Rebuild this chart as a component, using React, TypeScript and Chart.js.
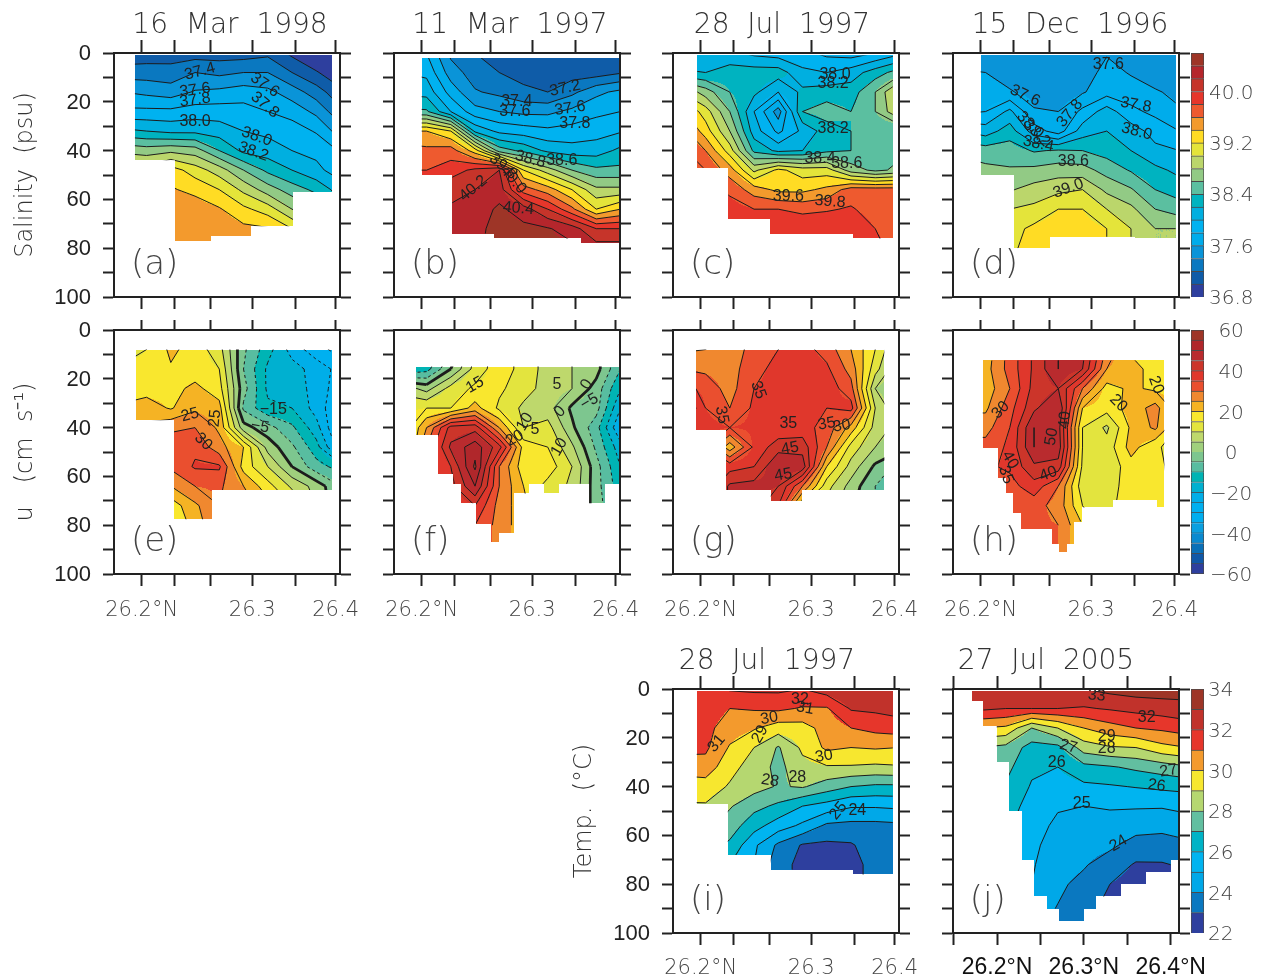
import React, { useEffect, useRef } from "react";
import { Chart, registerables } from "chart.js";

Chart.register(...registerables);

// ---------- grid axes ----------
const latCols = [26.18, 26.205, 26.23, 26.255, 26.28, 26.305, 26.33, 26.355, 26.38, 26.405];
const latColsJ = [26.15, 26.18, 26.21, 26.24, 26.27, 26.3, 26.33, 26.36, 26.39, 26.42];
const depthRows = [0, 8, 16, 24, 32, 40, 48, 56, 64, 72, 80];
const depthRowsJ = [0, 8, 16, 24, 32, 40, 48, 56, 64, 72, 80, 88, 96];

// ---------- fields: one array per latitude column ----------
const fieldA = [
  [37.05,37.3,37.6,37.85,38.25,38.75,39.1,39.3,39.42,39.5,39.55],
  [37.08,37.3,37.55,37.85,38.2,38.7,39.1,39.3,39.42,39.5,39.55],
  [37.1,37.28,37.5,37.85,38.15,38.75,39.3,39.42,39.5,39.55,39.55],
  [37.1,37.4,37.62,37.9,38.15,38.7,39.1,39.35,39.5,39.55,39.55],
  [37.1,37.35,37.65,37.9,38.1,38.4,38.9,39.2,39.42,39.55,39.55],
  [37.1,37.4,37.7,37.88,38.0,38.15,38.6,38.95,39.25,39.45,39.55],
  [37.15,37.4,37.65,37.8,37.95,38.1,38.35,38.7,39.1,39.42,39.55],
  [36.95,37.2,37.5,37.72,37.9,38.0,38.2,38.5,38.8,39.2,39.4],
  [36.8,37.02,37.3,37.55,37.78,37.95,38.05,38.35,38.6,38.9,39.1],
  [36.7,36.85,37.05,37.25,37.5,37.78,37.9,38.1,38.3,38.5,38.7],
];
const fieldB = [
  [37.8,38.0,38.15,38.45,39.4,39.7,39.8,39.9,39.9,39.9,39.9],
  [37.8,37.95,38.12,38.43,39.4,39.65,39.8,39.9,39.95,40,40],
  [37.35,37.5,37.72,38.0,39.2,39.7,39.9,40.15,40.22,40.3,40.3],
  [37.2,37.3,37.42,37.68,38.15,39.3,40.05,40.2,40.28,40.35,40.35],
  [37.1,37.2,37.35,37.6,37.95,38.5,40.2,40.3,40.44,40.46,40.5],
  [37.05,37.12,37.25,37.55,37.9,38.35,39.2,39.7,40.3,40.45,40.5],
  [37.0,37.05,37.2,37.55,37.85,38.15,38.9,39.5,40.0,40.42,40.45],
  [37.0,37.1,37.35,37.65,37.88,38.08,38.6,39.2,39.65,40.3,40.45],
  [37.02,37.1,37.55,37.75,37.92,38.1,38.45,38.85,39.2,40.0,40.3],
  [37.0,37.18,37.65,37.8,37.98,38.25,38.45,38.85,39.4,40.0,40.3],
];
const fieldC = [
  [37.95,38.25,39.0,39.45,39.7,39.85,39.8,39.8,39.8,39.8,39.8],
  [38.0,38.2,38.7,39.1,39.3,39.6,39.8,39.9,39.9,39.9,39.9],
  [38.05,38.3,38.4,38.6,38.8,39.1,39.5,39.75,39.9,40,40],
  [37.95,38.3,38.25,38.0,38.1,38.35,38.95,39.5,39.8,39.9,39.9],
  [37.9,38.3,38.0,37.5,37.75,38.15,39.25,39.35,39.8,39.95,39.95],
  [37.85,38.05,38.25,38.4,38.05,38.2,39.1,39.35,39.75,39.95,39.95],
  [37.75,38.0,38.3,38.5,38.3,38.35,39.1,39.45,39.78,39.95,39.95],
  [37.7,38.1,38.3,38.4,38.4,38.4,38.7,39.7,39.82,39.95,39.95],
  [37.8,38.3,38.6,38.6,38.4,38.45,38.55,39.7,39.72,39.8,39.85],
  [37.95,38.5,39.1,39.0,38.4,38.55,38.65,39.7,39.72,39.72,39.72],
];
const fieldD = [
  [37.5,37.62,37.7,37.75,38.2,38.55,38.7,38.75,38.9,39,39],
  [37.55,37.6,37.7,37.8,38.1,38.5,38.65,38.7,38.9,39,39],
  [37.45,37.5,37.62,38.05,38.3,38.5,38.62,38.78,39.0,39.12,39.15],
  [37.42,37.42,37.52,37.62,37.9,38.38,38.65,38.88,39.05,39.25,39.3],
  [37.42,37.42,37.45,37.6,37.7,38.42,38.7,38.95,39.2,39.3,39.3],
  [37.42,37.48,37.58,37.85,38.1,38.4,38.68,39.0,39.2,39.3,39.3],
  [37.58,37.68,37.72,38.1,38.2,38.32,38.52,38.75,39.0,39.2,39.2],
  [37.5,37.58,37.7,37.85,38.1,38.2,38.38,38.62,38.85,39.0,39.0],
  [37.42,37.5,37.62,37.75,37.92,38.05,38.25,38.4,38.6,38.8,38.8],
  [37.42,37.45,37.55,37.62,37.8,38.0,38.15,38.3,38.5,38.8,38.8],
];
const fieldE = [
  [13,12,16,17,21,25,25,25,25,25,25],
  [14,15,17,18,22.5,26,28,30,28,22,18],
  [20,21,19.5,18,19.5,29,33,31,25,17,15],
  [19,18,17,21.5,24,30,34,35.6,30,24,22],
  [10,12,15,17,22,24,27,35.8,31,30,30],
  [-3,-4,-5,-3,-6,2,20,18,25,28,28],
  [-12,-13,-16,-16,-14,-3,3,10,17,22,22],
  [-22,-22,-18,-17,-15,-9,-4,0,9,15,15],
  [-28,-28,-22,-22,-22,-18,-13,-8,3,5,5],
  [-35,-32,-27,-28,-30,-32,-28,-12,-5,-5,-5],
];
const fieldF = [
  [-15,-15,-15,8,14,10,9,9,9,9,9],
  [-15,-15,-12,3,15,25,30,32,32,32,32],
  [-5,-5,0,12,15,42,46,40,38,35,35],
  [10,10,12,16,22,43,53,56,50,40,35],
  [18,18,18,16,14,25,42,30,30,28,28],
  [13,13,13,12,9,10,18,17,20,22,22],
  [8,8,8,8,7,12,15,18,13,11,11],
  [5,5,5,5,-1,1,6,10,9,9,9],
  [2,2,2,-2,-3,-8,-6,-3,-3,-3,-3],
  [-10,-10,-10,-15,-20,-25,-18,-15,-13,-10,-10],
];
const fieldG = [
  [20,24,30,38,48,38,38,38,38,38,38],
  [22,25,29,33,35,37,35,35,35,35,35],
  [25,27,28,28,30,35,22,38,46,46,46],
  [30,32,33,35,36,36,36,40,47,48,48],
  [33,35,37,37,35,36,43,50,45,40,40],
  [35,37,37,38,38,37,43,48,30,15,15],
  [30,33,36,38,35,33,30,20,12,8,8],
  [22,25,28,32,37,23,13,8,3,1,1],
  [15,15,12,5,10,8,5,-1,-5,-5,-5],
  [3,3,0,1,0,3,2,-7,-10,-10,-10],
];
const fieldH = [
  [22,22,23,22,24,28,32,32,32,32,32],
  [22,22,23,22,24,28,32,34,33,31,31],
  [32,32,32,30,33,35,36,36,33,31,31],
  [41,41,41,42,44,50,50,44,38,32,31],
  [50,50,50,45,50,47,48,43,30,28,30],
  [47,47,45,30,20,15,15,14,12,15,20],
  [29,29,25,18,17,9,12,11,11,12,12],
  [19,19,22,21,22,21,22,18,19,20,20],
  [16,16,18,19,27,26,16,17,17,19,19],
  [15,15,16,17,16,14,12,12,13,18,18],
];
const fieldI = [
  [31.7,31.5,31.4,31.3,30.5,29.4,28.9,28.5,28,28,28],
  [31.7,31.5,31.3,31.2,30.6,29.5,28.9,28.3,27.5,27.2,27],
  [32.1,31.0,30.5,29.9,29.3,28.9,28.1,27.5,26.8,26,26],
  [32.2,31.1,30.1,29.0,28.6,28.4,27.3,26.4,25.2,25,25],
  [32.2,31.2,29.5,27.9,27.7,27.9,26.8,25.5,23.8,23.4,23.4],
  [32,30.9,29.6,29.2,28.7,28.1,26,24.8,22.9,22.7,22.7],
  [32.5,30.9,30.4,30.2,28.9,27.5,25.6,23.8,22.8,22.7,22.7],
  [32.9,32.1,31,30,28.9,27,25.1,23.7,22.9,22.6,22.6],
  [33,32.2,31.3,30.1,28.8,26.8,25.1,23.7,23.5,23.4,23.4],
  [33,32.4,31.5,30,28.9,26.8,25.2,23.8,23.5,23.4,23.4],
];
const fieldJ = [
  [32.5,31.5,30,28,27.5,27,26.5,26,25.5,25.5,25.5,25.5,25.5],
  [32.9,32.2,30,28,27.5,27,26.5,26.2,25.8,25.5,25.5,25.5,25.5],
  [33,32,29.8,27.7,27.3,26.9,26.5,26.2,25.8,25.5,25.3,25.1,25],
  [33,32,28,26.6,26.2,25.9,25.6,25.4,25.2,25.1,25,24.5,24.3],
  [33,32,29,26.7,26,25.6,25.1,24.8,24.6,24.4,24.2,24,23.8],
  [33,31.9,30,28.5,26.7,25.8,25,24.6,24.4,24.1,23.7,23.5,23.3],
  [33.3,32.1,30.6,28.9,26.9,25.9,25.1,24.6,24.2,23.5,23,22.7,22.6],
  [33.5,32.3,31,29,27.2,26.05,25.1,24.4,23.6,22.9,22.6,22.5,22.5],
  [33.5,32.5,31.2,29.7,27.5,26.2,25.1,24.2,23.7,22.9,22.5,22.5,22.5],
  [33.4,32.7,31.5,30,27.9,26.3,25.3,24.5,23.8,23.2,23,23,23],
];

// ---------- sampled extent of each section ----------
const edgesA = [26.193, 26.2343, 26.2714, 26.3127, 26.356, 26.3962];
const topA = [1, 1, 1, 1, 1];
const bottomA = [44, 77, 75, 71, 57];
const edgesB = [26.2, 26.2316, 26.2746, 26.3643, 26.4038];
const topB = [2, 2, 2, 2];
const bottomB = [50, 74, 76, 78];
const edgesC = [26.1965, 26.2285, 26.2715, 26.3574, 26.398];
const topC = [1, 1, 1, 1];
const bottomC = [47, 68, 74, 76];
const edgesD = [26.2, 26.2343, 26.2715, 26.3592, 26.401];
const topD = [1, 1, 1, 1];
const bottomD = [50, 80, 75.3, 76];
const edgesE = [26.194, 26.2333, 26.2722, 26.396];
const topE = [8, 8, 8];
const bottomE = [37, 77.6, 65.6];
const edgesF = [26.1941,26.2171,26.2326,26.2405,26.256,26.2718,26.2797,26.2952,26.3107,26.3258,26.3416,26.3726,26.3891,26.4038];
const topF = [15,15,15,15,15,15,15,15,15,15,15,15,15];
const bottomF = [43,59,63,71,79.5,86.8,83,67,63,67,63,71,63];
const edgesG = [26.1952, 26.2261, 26.2722, 26.3042, 26.3894];
const topG = [8, 8, 8, 8];
const bottomG = [41, 65.6, 70, 65.6];
const edgesH = [26.2021,26.2182,26.2261,26.2336,26.2416,26.2732,26.2808,26.2887,26.2962,26.3042,26.3362,26.3815,26.3894];
const topH = [12.5,12.5,12.5,12.5,12.5,12.5,12.5,12.5,12.5,12.5,12.5,12.5];
const bottomH = [48.5,60.5,66.7,75,81.7,87.7,90.8,87.7,78.5,72.7,69.7,72.7];
const edgesI = [26.1959, 26.2279, 26.2722, 26.3574, 26.398];
const topI = [0.8, 0.8, 0.8, 0.8];
const bottomI = [47, 68, 74, 76];
const edgesJ = [26.1708,26.1843,26.1996,26.2138,26.2284,26.2426,26.2572,26.2714,26.3002,26.314,26.3425,26.3716,26.4,26.4089];
const topJ = [0.8,0.8,0.8,0.8,0.8,0.8,0.8,0.8,0.8,0.8,0.8,0.8,0.8];
const bottomJ = [5,15,30,50,70,85,90,95,90,85,80,75,70];

// ---------- contour labels: [lat, depth, text, rotation] ----------
type Lab = [number, number, string, number];
const labelsA: Lab[] = [[26.26,7.6,"37.4",-15],[26.255,15.2,"37.6",-8],[26.255,19.3,"37.8",-8],[26.255,28.1,"38.0",0],[26.327,13.1,"37.6",35],[26.327,21.3,"37.8",40],[26.3186,34.3,"38.0",20],[26.3151,40.4,"38.2",20]];
const labelsB: Lab[] = [[26.3478,14.5,"37.2",-12],[26.298,20,"37.4",0],[26.296,24,"37.6",0],[26.353,22.7,"37.6",-8],[26.358,28.8,"37.8",0],[26.312,43.6,"38.8",15],[26.3444,43.9,"38.6",0],[26.2532,55.5,"40.2",-40],[26.284,46.6,"39.8",40],[26.2945,52,"40.0",50],[26.2997,63.7,"40.4",5]];
const labelsC: Lab[] = [[26.3385,9,"38.0",0],[26.3365,12.4,"38.2",0],[26.3365,30.9,"38.2",0],[26.323,43.2,"38.4",0],[26.3506,45.2,"38.6",0],[26.2904,58.9,"39.6",0],[26.3334,60.9,"39.8",5]];
const labelsD: Lab[] = [[26.3316,4.9,"37.6",0],[26.2457,17.5,"37.6",25],[26.292,24.7,"37.8",-50],[26.36,21.3,"37.8",10],[26.3609,32.2,"38.0",15],[26.2509,29.5,"38.0",45],[26.2578,32.9,"38.2",45],[26.2594,37.3,"38.4",12],[26.2955,44.5,"38.6",0],[26.2904,55.5,"39.0",-20]];
const labelsE: Lab[] = [[26.2498,34.8,"25",-15],[26.2756,36.2,"25",-85],[26.2635,45.8,"30",45],[26.3357,32.8,"−15",0],[26.322,39.6,"−5",10]];
const labelsF: Lab[] = [[26.255,22.5,"15",-30],[26.3065,37.6,"10",-60],[26.296,44.4,"20",-30],[26.3169,41,"5",0],[26.3419,48,"10",-60],[26.3395,22.3,"5",0],[26.37,22.3,"0",-60],[26.3427,33.5,"0",-45],[26.3729,29.4,"−5",-30]];
const labelsG: Lab[] = [[26.2594,24.6,"35",70],[26.2217,34.8,"35",80],[26.2904,38.2,"35",0],[26.33,38.5,"35",-10],[26.3454,39.3,"30",-10],[26.292,48.5,"45",-10],[26.2852,59.4,"45",-10]];
const labelsH: Lab[] = [[26.2206,32.8,"30",-45],[26.2869,36.9,"40",-85],[26.2732,43.7,"50",-80],[26.2302,53.3,"40",60],[26.2261,59.4,"35",70],[26.2697,59,"40",-20],[26.3419,30,"20",45],[26.3808,22.5,"20",70]];
const labelsI: Lab[] = [[26.3024,4.2,"32",0],[26.3076,7.9,"31",10],[26.2708,12,"30",-10],[26.2165,22.3,"31",-50],[26.2612,18.6,"29",-60],[26.3272,27.5,"30",-10],[26.2715,37.6,"28",10],[26.2996,36.2,"28",0],[26.3419,49.9,"25",-50],[26.3615,49.9,"24",0]];
const labelsJ: Lab[] = [[26.3148,2.7,"33",5],[26.3724,11.6,"32",0],[26.3263,19.5,"29",0],[26.3263,24.3,"28",0],[26.2822,23.6,"27",15],[26.2687,30.2,"26",0],[26.3974,33.6,"27",-10],[26.3839,39.6,"26",8],[26.2975,46.9,"25",0],[26.3398,63.3,"24",-30]];

// ---------- axes ----------
const stationTicks = [26.2, 26.234, 26.271, 26.314, 26.359, 26.4];
const stationLabels = ["26.2°N", "", "", "26.3", "", "26.4"];
const ticksJ = [26.15, 26.2, 26.25, 26.3, 26.35, 26.4];
const labelsTicksJ = ["", "26.2°N", "", "26.3°N", "", "26.4°N"];
const depthTicks = [0, 10, 20, 30, 40, 50, 60, 70, 80, 90, 100];

// ---------- colour scales ----------
const salColors = ["#2E3F9E","#0F5CA8","#0A78C0","#0A94D8","#00ACEB","#00B2F0","#00AFE0","#00B3C0","#5BBFA0","#92CA85","#BBD66B","#E4E43A","#FFDC24","#F39A2D","#EE5A2F","#E6362B","#C6342A","#B5262C","#9E3527"];
const salBreaks = [36.8,37,37.2,37.4,37.6,37.8,38,38.2,38.4,38.6,38.8,39,39.2,39.4,39.6,39.8,40,40.2,40.4,40.6];
const salTicks = [36.8, 37.6, 38.4, 39.2, 40.0];
const uColors = ["#2E3F9E","#1058A8","#0A70B8","#0A8AD0","#0AA0E0","#00AEEF","#00B0F0","#00AEE8","#00B0D0","#00B4B4","#58BDA0","#7DC68F","#A0D07D","#BED86C","#E3E43E","#F9E72E","#F5B324","#F0882F","#EA4F2F","#E0372C","#CC352A","#B92B2E","#B0272B","#9E3527"];
const uBreaks = [-60,-55,-50,-45,-40,-35,-30,-25,-20,-15,-10,-5,0,5,10,15,20,25,30,35,40,45,50,55,60];
const uTicks = [-60, -40, -20, 0, 20, 40, 60];
const tColors = ["#2E3F9E","#0A78C0","#00A8E8","#00B4F0","#00B3C6","#62BFA0","#B5D770","#F7E72F","#F39A2D","#E6362B","#C1322B","#9E3527"];
const tBreaks = [22,23,24,25,26,27,28,29,30,31,32,33,34];
const tTicks = [22, 24, 26, 28, 30, 32, 34];

const THIN = '"DejaVu Sans"';
const SANS = '"Liberation Sans"';
const INK = "#222";
const GREY = "#444";
const ML = 103;
const PW = 226;
const PH = 244;

const xMinStd = 26.17143;
const xMaxStd = 26.4045;
const xMinJ = 26.1493;
const xMaxJ = 26.4096;

interface Panel {
  left: number; top: number; field: number[][]; edges: number[]; tops: number[]; bottoms: number[];
  labels: Lab[]; breaks: number[]; colors: string[]; letter: string; title?: string; titleShift?: number;
  yTitle?: string; showY?: boolean; showX?: boolean; topTick: number; dashed?: boolean;
  j?: boolean; xPad?: number;
}

const panels: Panel[] = [
  { left: 114, top: 53, field: fieldA, edges: edgesA, tops: topA, bottoms: bottomA, labels: labelsA, breaks: salBreaks, colors: salColors, letter: "(a)", title: "16  Mar  1998", titleShift: 3, yTitle: "Salinity  (psu)", showY: true, topTick: 13 },
  { left: 394, top: 53, field: fieldB, edges: edgesB, tops: topB, bottoms: bottomB, labels: labelsB, breaks: salBreaks, colors: salColors, letter: "(b)", title: "11  Mar  1997", titleShift: 3, topTick: 13 },
  { left: 673, top: 53, field: fieldC, edges: edgesC, tops: topC, bottoms: bottomC, labels: labelsC, breaks: salBreaks, colors: salColors, letter: "(c)", title: "28  Jul  1997", titleShift: -4, topTick: 13 },
  { left: 953, top: 53, field: fieldD, edges: edgesD, tops: topD, bottoms: bottomD, labels: labelsD, breaks: salBreaks, colors: salColors, letter: "(d)", title: "15  Dec  1996", titleShift: 4, topTick: 13 },
  { left: 114, top: 330, field: fieldE, edges: edgesE, tops: topE, bottoms: bottomE, labels: labelsE, breaks: uBreaks, colors: uColors, letter: "(e)", yTitle: "u   (cm  s⁻¹)", showY: true, showX: true, topTick: 10, dashed: true, xPad: 12 },
  { left: 394, top: 330, field: fieldF, edges: edgesF, tops: topF, bottoms: bottomF, labels: labelsF, breaks: uBreaks, colors: uColors, letter: "(f)", showX: true, topTick: 10, dashed: true, xPad: 12 },
  { left: 673, top: 330, field: fieldG, edges: edgesG, tops: topG, bottoms: bottomG, labels: labelsG, breaks: uBreaks, colors: uColors, letter: "(g)", showX: true, topTick: 10, dashed: true, xPad: 12 },
  { left: 953, top: 330, field: fieldH, edges: edgesH, tops: topH, bottoms: bottomH, labels: labelsH, breaks: uBreaks, colors: uColors, letter: "(h)", showX: true, topTick: 10, dashed: true, xPad: 12 },
  { left: 673, top: 689, field: fieldI, edges: edgesI, tops: topI, bottoms: bottomI, labels: labelsI, breaks: tBreaks, colors: tColors, letter: "(i)", title: "28  Jul  1997", titleShift: -19, yTitle: "Temp.  (°C)", showY: true, showX: true, topTick: 13, xPad: 11 },
  { left: 953, top: 689, field: fieldJ, edges: edgesJ, tops: topJ, bottoms: bottomJ, labels: labelsJ, breaks: tBreaks, colors: tColors, letter: "(j)", title: "27  Jul  2005", titleShift: -20, showX: true, topTick: 13, j: true, xPad: 9 },
];

const hexRgb = (h: string) => [parseInt(h.slice(1, 3), 16), parseInt(h.slice(3, 5), 16), parseInt(h.slice(5, 7), 16)];

function bandIndex(v: number, breaks: number[]) {
  let i = 0;
  while (i < breaks.length - 2 && v >= breaks[i + 1]) i++;
  return i;
}

function sample(field: number[][], xs: number[], ys: number[], x: number, y: number) {
  let i = 0;
  while (i < xs.length - 2 && x > xs[i + 1]) i++;
  let j = 0;
  while (j < ys.length - 2 && y > ys[j + 1]) j++;
  const tx = Math.min(1, Math.max(0, (x - xs[i]) / (xs[i + 1] - xs[i])));
  const ty = Math.min(1, Math.max(0, (y - ys[j]) / (ys[j + 1] - ys[j])));
  return (
    field[i][j] * (1 - tx) * (1 - ty) +
    field[i + 1][j] * tx * (1 - ty) +
    field[i][j + 1] * (1 - tx) * ty +
    field[i + 1][j + 1] * tx * ty
  );
}

const fieldPlugin = {
  id: "sectionField",
  beforeDatasetsDraw(chart: any, _a: any, o: any) {
    const { ctx, chartArea: ca, scales } = chart;
    const sx = scales.x;
    const sy = scales.y;
    const { field, xs, ys, breaks, colors, edges, tops, bottoms, dashed } = o;
    const rgb = colors.map(hexRgb);
    const w = Math.ceil(ca.right - ca.left);
    const h = Math.ceil(ca.bottom - ca.top);
    const off = document.createElement("canvas");
    off.width = w;
    off.height = h;
    const octx = off.getContext("2d")!;
    const img = octx.createImageData(w, h);
    const rows: number[] = [];
    for (let py = 0; py < h; py++) rows.push(sy.getValueForPixel(ca.top + py + 0.5));
    for (let px = 0; px < w; px++) {
      const lat = sx.getValueForPixel(ca.left + px + 0.5);
      let seg = -1;
      for (let k = 0; k < edges.length - 1; k++) if (lat >= edges[k] && lat < edges[k + 1]) seg = k;
      if (seg < 0) continue;
      for (let py = 0; py < h; py++) {
        const d = rows[py];
        if (d < tops[seg] || d > bottoms[seg]) continue;
        const c = rgb[bandIndex(sample(field, xs, ys, lat, d), breaks)];
        const p = (py * w + px) * 4;
        img.data[p] = c[0];
        img.data[p + 1] = c[1];
        img.data[p + 2] = c[2];
        img.data[p + 3] = 255;
      }
    }
    octx.putImageData(img, 0, 0);
    ctx.drawImage(off, ca.left, ca.top);

    // contour lines by marching squares, clipped to the sampled extent
    ctx.save();
    ctx.beginPath();
    for (let k = 0; k < edges.length - 1; k++) {
      const x0 = sx.getPixelForValue(edges[k]);
      const x1 = sx.getPixelForValue(edges[k + 1]);
      const y0 = sy.getPixelForValue(tops[k]);
      const y1 = sy.getPixelForValue(bottoms[k]);
      ctx.rect(x0, y0, x1 - x0, y1 - y0);
    }
    ctx.clip();
    for (const lev of breaks.slice(1, -1)) {
      ctx.beginPath();
      for (let i = 0; i < xs.length - 1; i++) {
        for (let j = 0; j < ys.length - 1; j++) {
          const a = field[i][j], b = field[i + 1][j], c = field[i + 1][j + 1], e = field[i][j + 1];
          const pts: [number, number][] = [];
          const add = (v0: number, v1: number, x0: number, y0: number, x1: number, y1: number) => {
            if ((v0 < lev) !== (v1 < lev)) {
              const t = (lev - v0) / (v1 - v0);
              pts.push([sx.getPixelForValue(x0 + (x1 - x0) * t), sy.getPixelForValue(y0 + (y1 - y0) * t)]);
            }
          };
          add(a, b, xs[i], ys[j], xs[i + 1], ys[j]);
          add(b, c, xs[i + 1], ys[j], xs[i + 1], ys[j + 1]);
          add(c, e, xs[i + 1], ys[j + 1], xs[i], ys[j + 1]);
          add(e, a, xs[i], ys[j + 1], xs[i], ys[j]);
          for (let q = 0; q + 1 < pts.length; q += 2) {
            ctx.moveTo(pts[q][0], pts[q][1]);
            ctx.lineTo(pts[q + 1][0], pts[q + 1][1]);
          }
        }
      }
      ctx.strokeStyle = "#1c1c1c";
      ctx.lineWidth = dashed && Math.abs(lev) < 1e-6 ? 2.8 : 1;
      ctx.setLineDash(dashed && lev < -1e-6 ? [3, 3] : []);
      ctx.stroke();
    }
    ctx.restore();
  },
  afterDatasetsDraw(chart: any, _a: any, o: any) {
    const { ctx, scales } = chart;
    ctx.save();
    ctx.fillStyle = "#222";
    ctx.textAlign = "center";
    ctx.textBaseline = "middle";
    ctx.font = `16px ${SANS}`;
    for (const [lat, d, text, rot] of o.labels as Lab[]) {
      ctx.save();
      ctx.translate(scales.x.getPixelForValue(lat), scales.y.getPixelForValue(d));
      ctx.rotate((rot * Math.PI) / 180);
      ctx.fillText(text, 0, 0);
      ctx.restore();
    }
    ctx.fillStyle = "#444";
    ctx.textAlign = "left";
    ctx.font = `200 34px ${THIN}`;
    ctx.fillText(o.letter, scales.x.getPixelForValue(o.letterLat), scales.y.getPixelForValue(87));
    ctx.restore();
  },
};

function fixSize(kind: "w" | "h", size: number) {
  return (s: any) => {
    if (kind === "w") s.width = size;
    else s.height = size;
    s.paddingLeft = s.paddingRight = s.paddingTop = s.paddingBottom = 0;
  };
}

function setTicks(vals: number[]) {
  return (s: any) => {
    s.ticks = vals.map((v) => ({ value: v }));
  };
}

function panelGeom(p: Panel) {
  const shift = p.titleShift ?? 0;
  const mr = ML + 2 * shift;
  const titleH = p.title ? 34 : 0;
  const mt = p.topTick + titleH;
  const mb = 50;
  return { mr, mt, mb, cl: p.left - ML, ct: p.top - mt, cw: ML + PW + mr, ch: mt + PH + mb };
}

function buildPanel(canvas: HTMLCanvasElement, p: Panel) {
  const g = panelGeom(p);
  const xs = p.j ? latColsJ : latCols;
  const ys = p.j ? depthRowsJ : depthRows;
  const tv = p.j ? ticksJ : stationTicks;
  const tl = p.j ? labelsTicksJ : stationLabels;
  const xMin = p.j ? xMinJ : xMinStd;
  const xMax = p.j ? xMaxJ : xMaxStd;
  const nodes: any[] = [];
  xs.forEach((x, i) => ys.forEach((y, j) => nodes.push({ x, y, v: p.field[i][j] })));
  const grid = (len: number) => ({ drawOnChartArea: false, drawTicks: true, tickLength: len, tickWidth: 2, tickColor: INK });
  const border = { display: true, width: 2, color: INK, z: 2 };
  return new Chart(canvas, {
    type: "scatter",
    data: { datasets: [{ data: nodes, pointRadius: 0, showLine: false }] },
    plugins: [fieldPlugin],
    options: {
      animation: false,
      responsive: false,
      devicePixelRatio: 1,
      layout: { padding: 0 },
      plugins: {
        legend: { display: false },
        tooltip: { enabled: false },
        title: {
          display: !!p.title,
          text: p.title ?? "",
          fullSize: true,
          color: "#333",
          font: { family: THIN, size: 28, weight: "200", lineHeight: 34 / 28 },
          padding: { top: 3, bottom: -3 },
        },
        sectionField: {
          field: p.field, xs, ys, breaks: p.breaks, colors: p.colors, edges: p.edges, tops: p.tops, bottoms: p.bottoms,
          labels: p.labels, dashed: !!p.dashed, letter: p.letter, letterLat: p.j ? 26.1686 : 26.1889,
        },
      } as any,
      scales: {
        x: {
          type: "linear", position: "bottom", min: xMin, max: xMax,
          afterBuildTicks: setTicks(tv), afterFit: fixSize("h", g.mb),
          grid: grid(12), border,
          ticks: {
            display: !!p.showX, autoSkip: false, maxRotation: 0, padding: p.xPad ?? 8, color: p.j ? "#111" : GREY,
            font: p.j ? { family: SANS, size: 23 } : { family: THIN, size: 21, weight: "200" },
            callback: (_v: any, i: number) => tl[i],
          },
        },
        xT: {
          type: "linear", axis: "x", position: "top", min: xMin, max: xMax,
          afterBuildTicks: setTicks(tv), afterFit: fixSize("h", p.topTick),
          grid: grid(p.topTick), border, ticks: { display: false },
        },
        y: {
          type: "linear", position: "left", reverse: true, min: 0, max: 100,
          afterBuildTicks: setTicks(depthTicks), afterFit: fixSize("w", ML),
          grid: grid(11), border,
          title: {
            display: !!p.yTitle, text: p.yTitle ?? "", color: "#333", padding: 0,
            font: { family: THIN, size: 24, weight: "200", lineHeight: 1.2 },
          },
          ticks: {
            display: !!p.showY, autoSkip: false, padding: 12, color: INK, labelOffset: 1,
            font: { family: SANS, size: 22 },
            callback: (v: any) => (v % 20 === 0 ? String(v) : ""),
          },
        },
        yR: {
          type: "linear", axis: "y", position: "right", reverse: true, min: 0, max: 100,
          afterBuildTicks: setTicks(depthTicks), afterFit: fixSize("w", g.mr),
          grid: grid(11), border, ticks: { display: false },
        },
      },
    } as any,
  });
}

interface Bar { top: number; breaks: number[]; colors: string[]; ticks: number[]; align: string; pad: number; dec: number; }
const bars: Bar[] = [
  { top: 53, breaks: salBreaks, colors: salColors, ticks: salTicks, align: "near", pad: 5, dec: 1 },
  { top: 330, breaks: uBreaks, colors: uColors, ticks: uTicks, align: "center", pad: 6, dec: 0 },
  { top: 689, breaks: tBreaks, colors: tColors, ticks: tTicks, align: "near", pad: 4, dec: 0 },
];

function buildBar(canvas: HTMLCanvasElement, b: Bar) {
  return new Chart(canvas, {
    type: "bar",
    data: {
      labels: [""],
      datasets: b.colors.map((c, i) => ({
        data: [[b.breaks[i], b.breaks[i + 1]]],
        backgroundColor: c,
        borderColor: "#4a4a4a",
        borderWidth: 1,
        grouped: false,
        barPercentage: 1,
        categoryPercentage: 1,
      })),
    } as any,
    options: {
      animation: false,
      responsive: false,
      devicePixelRatio: 1,
      layout: { padding: { top: 14, bottom: 14, left: 0, right: 0 } },
      plugins: { legend: { display: false }, tooltip: { enabled: false } },
      scales: {
        x: { display: false },
        y: {
          type: "linear", position: "right",
          min: b.breaks[0], max: b.breaks[b.breaks.length - 1],
          afterBuildTicks: setTicks(b.ticks), afterFit: fixSize("w", 57),
          grid: { display: false, drawTicks: false, tickLength: 0 }, border: { display: false },
          ticks: {
            autoSkip: false, crossAlign: b.align, padding: b.pad, color: GREY, labelOffset: 2,
            font: { family: THIN, size: 20, weight: "200" },
            callback: (v: any) => (v < 0 ? "−" + Math.abs(v) : Number(v).toFixed(b.dec)),
          },
        },
      },
    } as any,
  });
}

export default function App() {
  const pRefs = useRef<(HTMLCanvasElement | null)[]>([]);
  const bRefs = useRef<(HTMLCanvasElement | null)[]>([]);
  useEffect(() => {
    const charts: Chart[] = [];
    panels.forEach((p, i) => charts.push(buildPanel(pRefs.current[i]!, p)));
    bars.forEach((b, i) => charts.push(buildBar(bRefs.current[i]!, b)));
    return () => charts.forEach((c) => c.destroy());
  }, []);
  return (
    <div style={{ position: "absolute", left: 0, top: 0, width: 1261, height: 978, overflow: "hidden", background: "#fff" }}>
      {panels.map((p, i) => {
        const g = panelGeom(p);
        return (
          <canvas key={p.letter} ref={(el) => { pRefs.current[i] = el; }} width={g.cw} height={g.ch}
            style={{ position: "absolute", left: g.cl, top: g.ct, width: g.cw, height: g.ch }} />
        );
      })}
      {bars.map((b, i) => (
        <canvas key={b.top} ref={(el) => { bRefs.current[i] = el; }} width={70} height={PH + 28}
          style={{ position: "absolute", left: 1191, top: b.top - 14, width: 70, height: PH + 28 }} />
      ))}
    </div>
  );
}
